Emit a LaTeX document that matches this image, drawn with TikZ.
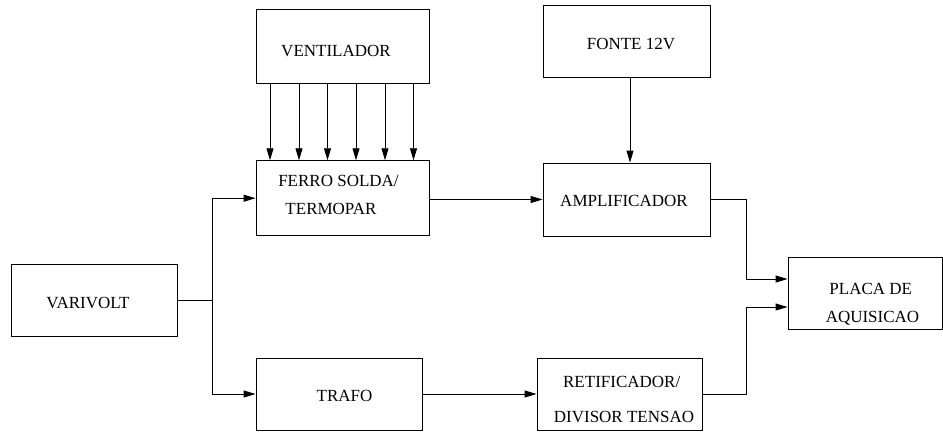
\documentclass[tikz,border=0pt]{standalone}
\usepackage{fontspec}
\setmainfont{Liberation Serif}
\usetikzlibrary{arrows.meta}
\begin{document}
\begin{tikzpicture}[x=1pt,y=-1pt,
  box/.style={draw, line width=0.9pt, inner sep=0pt},
  lbl/.style={font=\fontsize{17}{20}\selectfont, anchor=base, inner sep=0pt},
  conn/.style={line width=0.9pt},
  arr/.style={conn, -{Triangle[length=12pt,width=7pt]}}]
\useasboundingbox (0,0) rectangle (943,432);
% boxes
\node[box, minimum width=173pt, minimum height=74pt] (vent)  at (342.5,46) {};
\node[box, minimum width=167pt, minimum height=72pt] (fonte) at (626.5,41) {};
\node[box, minimum width=173pt, minimum height=75pt] (ferro) at (342.5,198.2) {};
\node[box, minimum width=167pt, minimum height=73pt] (amp)   at (626.5,199.5) {};
\node[box, minimum width=166pt, minimum height=72pt] (vari)  at (94,300) {};
\node[box, minimum width=166pt, minimum height=72pt] (trafo) at (339,394) {};
\node[box, minimum width=165pt, minimum height=72pt] (retif) at (619.5,394) {};
\node[box, minimum width=154pt, minimum height=72pt] (placa) at (865,293) {};
% labels
\node[lbl] (tvent)  at (336,56.5) {VENTILADOR};
\node[lbl] (tfonte) at (631,49) {FONTE 12V};
\node[lbl] (tferro1) at (338.5,186) {FERRO SOLDA/};
\node[lbl] (tferro2) at (331,214) {TERMOPAR};
\node[lbl] (tamp)   at (624,206) {AMPLIFICADOR};
\node[lbl] (tvari)  at (88,308) {VARIVOLT};
\node[lbl] (ttrafo) at (344.5,401) {TRAFO};
\node[lbl] (tretif1) at (621.7,387.5) {RETIFICADOR/};
\node[lbl] (tretif2) at (624,422.5) {DIVISOR TENSAO};
\node[lbl] (tplaca1) at (870.8,294) {PLACA DE};
\node[lbl] (tplaca2) at (872.5,322.5) {AQUISICAO};
% fan arrows
\foreach \d in {-72.5,-43.5,-15,13.5,42.5,71}
  \draw[arr] ([xshift=\d pt]vent.south) -- ([xshift=\d pt]ferro.north);
% power to amplifier
\draw[arr] ([xshift=3.5pt]fonte.south) -- ([xshift=3.5pt]amp.north);
% varivolt split
\coordinate (j) at (212,300);
\draw[conn] (vari.east) -- (j);
\draw[arr] (j) |- (ferro.west);
\draw[arr] (j) |- (trafo.west);
% chains
\draw[arr] (ferro.east |- amp.west) -- (amp.west);
\draw[arr] (trafo.east) -- (retif.west);
\coordinate (k1) at (746,279);
\coordinate (k2) at (746,307);
\draw[arr] (amp.east) -| (k1) -- (k1 -| placa.west);
\draw[arr] (retif.east) -| (k2) -- (k2 -| placa.west);
\end{tikzpicture}
\end{document}
